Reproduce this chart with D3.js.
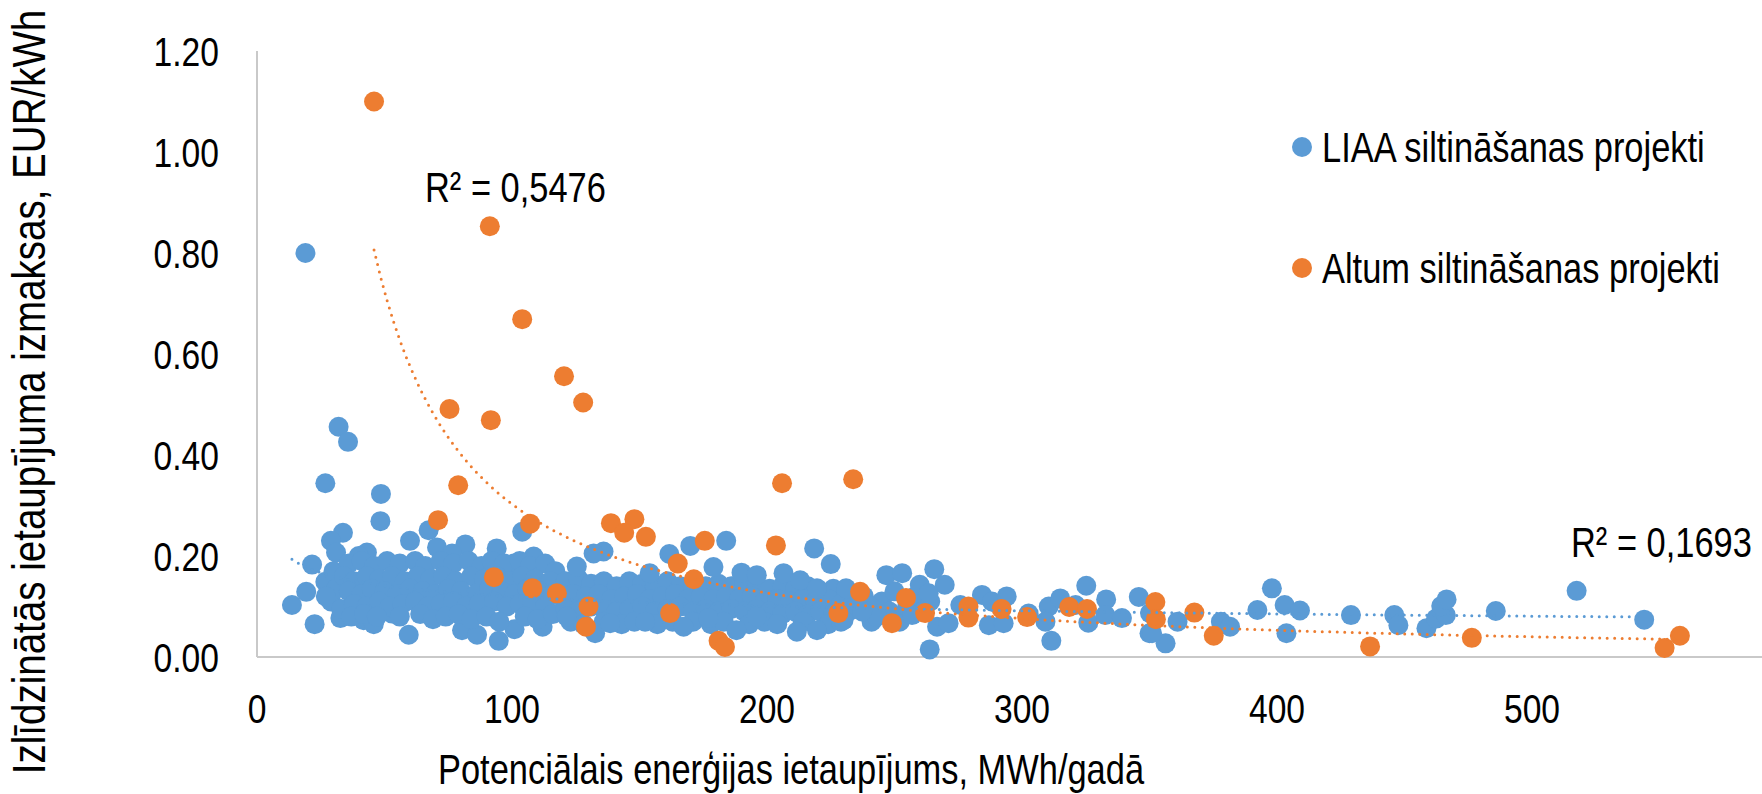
<!DOCTYPE html>
<meta charset="utf-8">
<script src="https://d3js.org/d3.v7.min.js"></script>
<style>
  body { margin: 0; background: #fff; }
  text { font-family: "Liberation Sans", Arial, sans-serif; fill: #000; }
</style>
<div id="chart"></div>
<script>
// LIAA projects: [energy saving MWh/year, levelised cost EUR/kWh]
var liaaPoints = [
  [19,0.80],[32,0.456],[35.7,0.426],[26.8,0.344],[48.6,0.323],[48.4,0.269],[67.3,0.251],[104,0.248],
  [33.7,0.246],[29,0.23],[31,0.207],[43.1,0.207],[39.9,0.2],[60,0.23],[70.6,0.217],[81.7,0.223],
  [94,0.215],[21.6,0.183],[13.7,0.103],[19.3,0.129],[26.8,0.149],[29,0.11],[22.6,0.065],[32.7,0.077],
  [41.8,0.073],[45.8,0.065],[53,0.086],[59.5,0.044],[80.4,0.053],[86.3,0.044],[94.8,0.032],[101,0.055],
  [112,0.06],[76.5,0.205],[100.7,0.185],[108.5,0.199],[53.6,0.182],[30,0.17],[31,0.135],[27,0.12],[33,0.095],
  // dense block 35-117
  [36,0.185],[41,0.19],[46,0.18],[51,0.19],[56,0.185],[62,0.19],[66,0.18],[72,0.19],[77,0.185],[83,0.19],
  [88,0.18],[92,0.19],[97,0.185],[103,0.19],[107,0.18],[113,0.185],[117,0.17],
  [34,0.16],[38,0.15],[43,0.16],[48,0.155],[53,0.16],[58,0.15],[63,0.16],[68,0.155],[73,0.16],[78,0.15],
  [84,0.16],[89,0.155],[94,0.16],[99,0.15],[104,0.16],[109,0.155],[115,0.15],
  [36,0.13],[41,0.125],[45,0.135],[50,0.13],[55,0.125],[60,0.135],[65,0.13],[70,0.125],[75,0.135],[80,0.13],
  [86,0.125],[91,0.135],[96,0.13],[101,0.125],[106,0.135],[111,0.13],[116,0.125],
  [38,0.105],[43,0.1],[48,0.11],[52,0.1],[57,0.105],[62,0.11],[67,0.1],[72,0.105],[77,0.11],[82,0.1],
  [87,0.105],[93,0.11],[98,0.1],[103,0.105],[108,0.11],[113,0.1],
  [37,0.08],[42,0.085],[47,0.08],[56,0.08],[64,0.085],[69,0.075],[74,0.08],[79,0.085],[84,0.075],[90,0.08],
  [95,0.07],[105,0.08],[110,0.075],[116,0.085],
  // block 117-235
  [121,0.15],[126,0.155],[131,0.145],[136,0.15],[141,0.14],[146,0.15],[151,0.145],[156,0.14],[161,0.15],
  [166,0.14],[171,0.145],[176,0.14],[181,0.145],[186,0.14],[191,0.145],[196,0.14],[201,0.135],[206,0.14],
  [211,0.135],[216,0.14],[221,0.13],[226,0.135],[231,0.13],
  [119,0.12],[124,0.125],[129,0.12],[134,0.125],[139,0.115],[144,0.12],[149,0.125],[154,0.115],[159,0.12],
  [164,0.125],[169,0.115],[174,0.12],[179,0.115],[184,0.12],[189,0.115],[194,0.12],[199,0.11],[204,0.115],
  [209,0.11],[214,0.115],[219,0.11],[224,0.115],[229,0.105],[234,0.11],
  [121,0.095],[126,0.09],[131,0.1],[136,0.095],[141,0.09],[146,0.095],[151,0.1],[156,0.09],[161,0.095],
  [166,0.1],[171,0.09],[176,0.095],[181,0.09],[186,0.095],[191,0.09],[196,0.095],[201,0.09],[206,0.085],
  [211,0.09],[216,0.085],[221,0.09],[226,0.085],[232,0.09],
  [123,0.07],[128,0.065],[136,0.07],[143,0.065],[148,0.07],[157,0.065],[163,0.07],[171,0.07],[178,0.065],
  [183,0.07],[193,0.065],[199,0.07],[204,0.065],[214,0.07],[224,0.065],[229,0.07],
  [135.9,0.209],[132,0.205],[161.7,0.204],[169.9,0.22],[184,0.23],[179,0.178],[190,0.167],[196,0.162],
  [206.5,0.166],[218.5,0.215],[225,0.184],[213,0.152],[219.6,0.136],[154,0.166],[231,0.136],[125.4,0.179],
  [132.6,0.047],[152.2,0.07],[167.3,0.06],[188,0.053],[211.7,0.05],[219.6,0.053],[230,0.073],[121.5,0.08],
  [138.5,0.067],[177,0.077],[196,0.08],
  // 235-350
  [238,0.12],[241,0.07],[245,0.11],[248,0.09],[250,0.13],[252,0.07],[255,0.1],[258,0.12],[261,0.09],[264,0.11],
  [246.8,0.162],[253,0.166],[265.6,0.174],[259.9,0.143],[269.7,0.143],[263.4,0.126],[240.5,0.1],[243,0.08],
  [256.9,0.083],[266.7,0.06],[271.2,0.067],[263.8,0.015],[275.8,0.103],[284.3,0.123],[288.2,0.11],[294,0.12],
  [287,0.063],[292.8,0.067],[302.6,0.086],[310.5,0.1],[315,0.116],[321,0.103],[309.2,0.07],[311.5,0.032],
  [325.2,0.141],[333,0.114],[326,0.068],[332.7,0.083],[339.2,0.077],[345.8,0.119],[350,0.047],[237.3,0.09],
  // 350-545
  [350.2,0.087],[361,0.07],[356.3,0.027],[351,0.047],[378,0.07],[381.6,0.06],[392.3,0.093],[403.7,0.047],
  [398,0.136],[403,0.103],[409,0.092],[429,0.083],[446,0.083],[447.6,0.063],[458.6,0.057],[462.4,0.076],
  [466.2,0.083],[464.4,0.101],[466.5,0.114],[485.8,0.091],[517.5,0.131],[544,0.074]
];

// Altum projects
var altumPoints = [
  [45.9,1.10],[91.3,0.853],[104,0.669],[120.4,0.556],[127.9,0.504],[75.5,0.491],[91.7,0.469],[78.9,0.34],
  [205.9,0.344],[233.8,0.352],[71,0.271],[107.1,0.264],[138.8,0.265],[148,0.273],[144,0.246],[152.5,0.238],
  [175.6,0.23],[203.5,0.221],[165,0.185],[171.3,0.154],[92.9,0.158],[108,0.136],[117.6,0.126],[130,0.1],
  [129,0.06],[162,0.087],[181,0.032],[183.5,0.02],[228,0.087],[236.5,0.129],[254.5,0.117],[249,0.067],
  [262,0.087],[279,0.1],[279,0.078],[292,0.095],[302,0.079],[318.5,0.099],[325.5,0.095],[352.3,0.109],
  [352.5,0.075],[367.6,0.088],[375.2,0.042],[436.5,0.021],[476.4,0.038],[552,0.018],[558,0.042]
];

var seriesNames = ["LIAA siltināšanas projekti", "Altum siltināšanas projekti"];
var seriesColors = ["#5b9bd5", "#ed7d31"];
var r2Labels = ["R² = 0,5476", "R² = 0,1693"];
var xTicks = [0, 100, 200, 300, 400, 500];
var yTicks = [0, 0.2, 0.4, 0.6, 0.8, 1.0, 1.2];

var width = 1762, height = 794;
var narrow = 0.82; // the original uses a condensed face

var svg = d3.select("#chart").append("svg")
    .attr("width", width)
    .attr("height", height);

var x = d3.scaleLinear().domain([0, 600]).range([257, 1787]);
var y = d3.scaleLinear().domain([0, 1.2]).range([657, 51]);

// condensed text helper
function label(px, py, str, size, anchor, rot) {
    var g = svg.append("g")
        .attr("transform", "translate(" + px + "," + py + ")" + (rot ? " rotate(" + rot + ")" : "") + " scale(" + narrow + ",1)");
    return g.append("text")
        .attr("text-anchor", anchor || "start")
        .style("font-size", size + "px")
        .text(str);
}

// axes lines
svg.append("line").attr("x1", x(0)).attr("x2", x(600)).attr("y1", y(0)).attr("y2", y(0))
    .attr("stroke", "#c9c9c9").attr("stroke-width", 2);
svg.append("line").attr("x1", x(0)).attr("x2", x(0)).attr("y1", y(0)).attr("y2", y(1.2))
    .attr("stroke", "#c9c9c9").attr("stroke-width", 2);

// tick labels
yTicks.forEach(function (d) {
    label(219, y(d), d3.format(".2f")(d), 41, "end").attr("dy", "0.36em");
});
xTicks.forEach(function (d) {
    label(x(d), 723, d, 41, "middle");
});

// axis titles
label(791, 784, "Potenciālais enerģijas ietaupījums, MWh/gadā", 42, "middle");
label(45, 392, "Izlīdzinātās ietaupījuma izmaksas, EUR/kWh", 47, "middle", -90);

// points
function drawPoints(pts, color) {
    svg.append("g").selectAll("circle").data(pts).enter().append("circle")
        .attr("cx", d => x(d[0])).attr("cy", d => y(d[1])).attr("r", 10)
        .attr("fill", color);
}
drawPoints(liaaPoints, seriesColors[0]);
drawPoints(altumPoints, seriesColors[1]);

// power trendlines (least squares in log-log space, like Excel)
function powerFit(pts) {
    var lx = pts.map(p => Math.log(p[0])), ly = pts.map(p => Math.log(p[1]));
    var mx = d3.mean(lx), my = d3.mean(ly);
    var b = d3.sum(lx.map((v, i) => (v - mx) * (ly[i] - my))) / d3.sum(lx.map(v => (v - mx) * (v - mx)));
    return {a: Math.exp(my - b * mx), b: b};
}
function drawTrend(pts, color) {
    var f = powerFit(pts);
    var ext = d3.extent(pts, p => p[0]);
    var xs = d3.range(0, 201).map(i => ext[0] + (ext[1] - ext[0]) * i / 200);
    svg.append("path")
        .datum(xs)
        .attr("d", d3.line().x(v => x(v)).y(v => y(f.a * Math.pow(v, f.b))))
        .attr("fill", "none").attr("stroke", color).attr("stroke-width", 3)
        .attr("stroke-linecap", "round").attr("stroke-dasharray", "0 7.5");
}
drawTrend(liaaPoints, seriesColors[0]);
drawTrend(altumPoints, seriesColors[1]);

// R² labels
label(425, 202, r2Labels[0], 42);
label(1571, 557, r2Labels[1], 42);

// legend
seriesNames.forEach(function (name, i) {
    svg.append("circle").attr("cx", 1302).attr("cy", 147 + i * 121).attr("r", 10).attr("fill", seriesColors[i]);
    label(1322, 162 + i * 121, name, 42);
});
</script>
